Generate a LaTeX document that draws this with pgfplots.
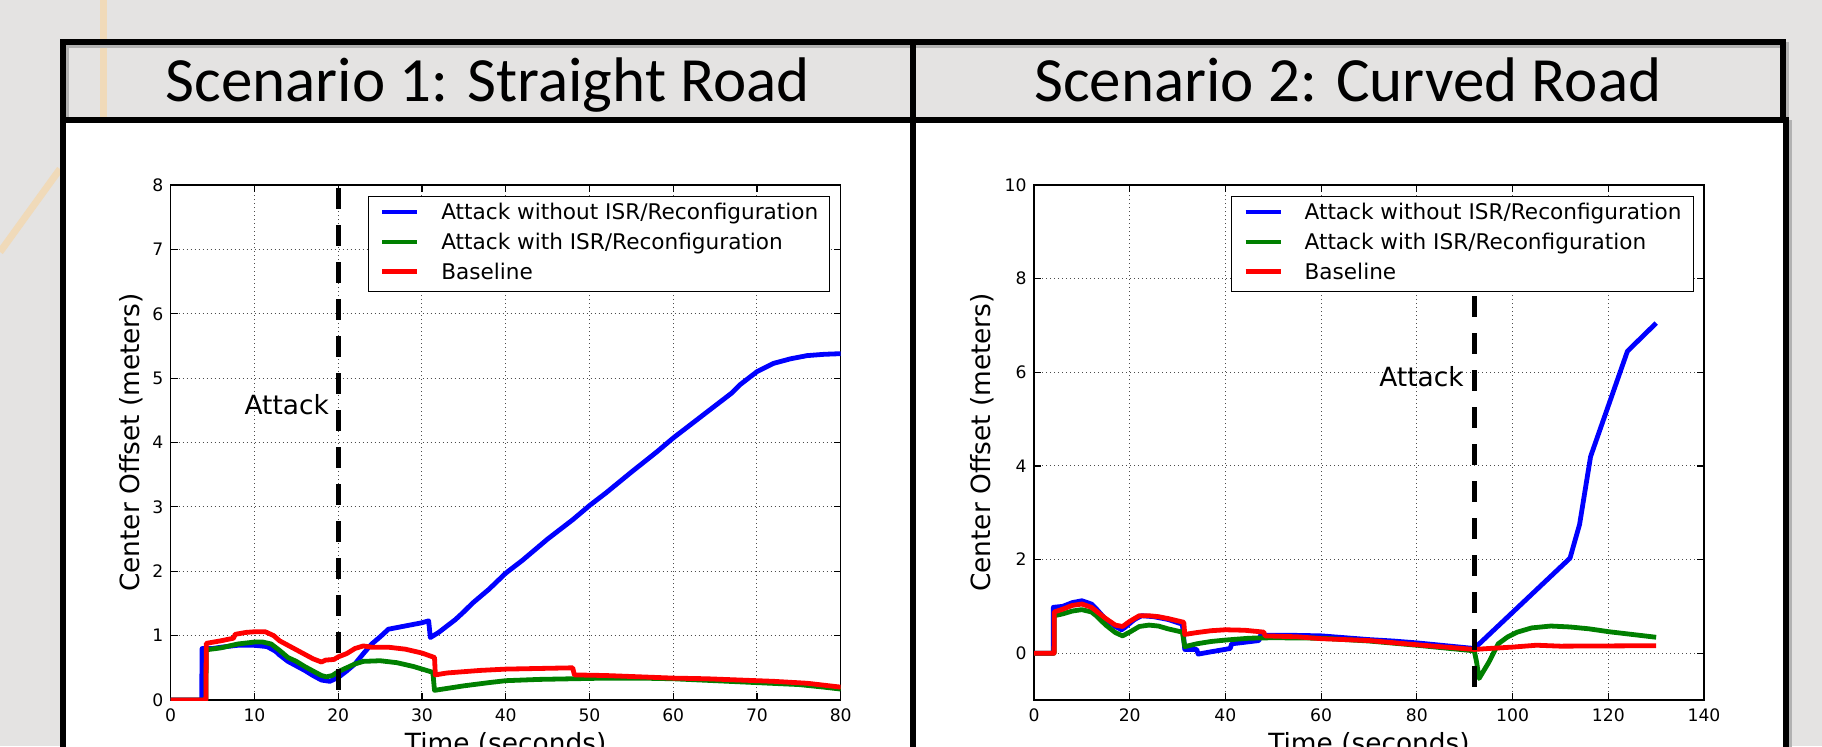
\documentclass[border=0pt]{standalone}
\usepackage{pgfplots}
\pgfplotsset{compat=1.18}
\usepackage{fontspec}
\setmainfont{DejaVu Sans}
\newfontfamily\titlefont{Carlito}
\definecolor{bg}{RGB}{228,227,226}
\definecolor{mblue}{RGB}{0,0,255}
\definecolor{mgreen}{RGB}{0,128,0}
\definecolor{mred}{RGB}{255,0,0}
\definecolor{deco}{RGB}{240,218,185}
\newcommand\tickfont{\fontsize{8.6}{10.2}\selectfont}
\newcommand\labelfont{\fontsize{13.2}{15.8}\selectfont}
\newcommand\legendfont{\fontsize{10.8}{13}\selectfont}
\pgfplotsset{
  panel/.style={
    scale only axis, width=335pt, height=257.5pt, anchor=south west,
    axis line style={black, line width=0.7pt},
    tick style={black, line width=0.6pt},
    tick align=inside, major tick length=3.5pt,
    grid=major,
    major grid style={black!70, line width=0.5pt, dash pattern=on 0.6pt off 1.4pt},
    tick label style={font=\tickfont},
    /pgf/number format/assume math mode=true,
    xticklabel style={inner sep=0pt, yshift=-4pt},
    yticklabel style={inner sep=0pt, xshift=-3.5pt},
    label style={font=\labelfont},
    xlabel style={at={(axis description cs:0.5,-0.0621)}, anchor=north, inner sep=0pt},
    ylabel style={anchor=center, inner sep=0pt},
    legend cell align=left,
    legend style={at={(axis description cs:1,1)}, anchor=north east,
      xshift=-5.25pt, yshift=-5.5pt, draw=black, line width=0.5pt, fill=white,
      font=\legendfont, inner xsep=5.75pt, inner ysep=3.9pt, row sep=4.95pt,
      column sep=10.85pt,
      nodes={inner sep=0pt, text height=0.76em, text depth=0.24em}},
    legend image code/.code={\draw[#1] (0pt,1.14pt) -- (17.5pt,1.14pt);},
  },
  dat/.style={line width=2.4pt, line join=round},
}
\begin{document}
\begin{tikzpicture}[x=0.5pt,y=0.5pt]
\useasboundingbox (0,0) rectangle (1822,746);
\clip (0,0) rectangle (1822,746);
\coordinate (pA) at (170.7,46);
\coordinate (pB) at (1034,46);
\fill[bg] (0,0) rectangle (1822,746);
\draw[deco, line width=3.5pt] (103,746) -- (103,626);
\draw[deco, line width=3.5pt] (0,494) -- (60,577);
% shadows
\draw[black!30, line width=3pt] (66,701) rectangle (1786,622.5);
\draw[black!30, line width=3pt] (66,622.5) -- (1789,622.5) -- (1789,-20);
\draw[line width=3pt] (63,704) rectangle (1783,625.5);
\filldraw[fill=white, line width=3pt] (63,625.5) rectangle (1786,-20);
\draw[line width=3pt] (912.5,704) -- (912.5,-20);
\node[anchor=base, inner sep=0pt, font=\titlefont\fontsize{31.5}{36}\selectfont] at (487.8,644.3) {Scenario 1: Straight Road};
\node[anchor=base, inner sep=0pt, font=\titlefont\fontsize{31.5}{36}\selectfont] at (1347.8,644.3) {Scenario 2: Curved Road};

\begin{axis}[panel, at={(pA)},
  xmin=0, xmax=80, ymin=0, ymax=8,
  xtick={0,10,...,80}, ytick={0,1,...,8},
  xlabel={Time (seconds)}, ylabel={Center Offset (meters)},
  ylabel style={at={(axis description cs:-0.0596,0.5)}}]
\addplot[dat, mblue] coordinates {(0,0) (3.7,0) (3.75,0.8) (5,0.8) (6,0.82) (8,0.85) (10,0.85) (11.5,0.83) (12.5,0.76) (13,0.7) (14,0.6) (15,0.53) (16,0.46) (17,0.38) (18,0.31) (19,0.29) (20,0.35) (21,0.45) (22,0.56) (23,0.72) (24,0.87) (25,0.98) (26,1.1) (28,1.15) (30,1.2) (30.8,1.23) (31,0.97) (32,1.05) (34,1.25) (35,1.37) (36,1.5) (38,1.72) (40,1.97) (42,2.17) (45,2.5) (48,2.8) (50,3.02) (52,3.22) (55,3.54) (58,3.85) (60,4.07) (62,4.27) (64,4.47) (65,4.57) (67,4.77) (68,4.9) (70,5.1) (72,5.23) (74,5.3) (76,5.35) (78,5.37) (80,5.38)};
\addlegendentry{Attack without ISR/Reconfiguration}
\addplot[dat, mgreen] coordinates {(0,0) (4.2,0) (4.25,0.78) (6,0.81) (8,0.87) (10,0.9) (11,0.9) (12,0.87) (13,0.77) (14,0.66) (15,0.6) (16,0.52) (17,0.45) (18,0.38) (18.6,0.36) (19.3,0.38) (20,0.44) (21,0.5) (22,0.56) (23,0.6) (25,0.61) (27,0.58) (29,0.52) (31.3,0.43) (31.5,0.15) (33,0.18) (35,0.22) (38,0.27) (40,0.3) (44,0.32) (48,0.33) (52,0.34) (56,0.34) (60,0.33) (65,0.3) (70,0.27) (75,0.24) (78,0.2) (80,0.17)};
\addlegendentry{Attack with ISR/Reconfiguration}
\addplot[dat, mred] coordinates {(0,0) (4.2,0) (4.25,0.88) (6,0.92) (7.5,0.96) (7.7,1.02) (9,1.05) (10,1.06) (11.3,1.06) (12.3,1.0) (13,0.92) (14,0.85) (15,0.78) (16,0.71) (17,0.64) (18,0.59) (18.5,0.62) (19.5,0.63) (20,0.67) (21,0.72) (22,0.8) (23,0.84) (24,0.82) (26,0.82) (28,0.79) (30,0.73) (31.5,0.66) (31.6,0.39) (33,0.42) (35,0.44) (37,0.46) (40,0.48) (44,0.49) (48,0.5) (48.2,0.39) (52,0.38) (56,0.36) (60,0.34) (64,0.33) (68,0.31) (72,0.29) (76,0.26) (80,0.2)};
\addlegendentry{Baseline}
\addplot[black, line width=2.5pt, dash pattern=on 10.25pt off 8.25pt, forget plot] coordinates {(20,7.95) (20,0.09)};
\node[anchor=east, inner sep=0pt, font=\labelfont] at (axis cs:18.93,4.59) {Attack};
\end{axis}

\begin{axis}[panel, at={(pB)},
  xmin=0, xmax=140, ymin=-1, ymax=10,
  xtick={0,20,...,140}, ytick={0,2,...,10},
  xlabel={Time (seconds)}, ylabel={Center Offset (meters)},
  ylabel style={at={(axis description cs:-0.0768,0.5)}}]
\addplot[dat, mblue] coordinates {(0,0) (4,0) (4.05,0.98) (6,1.0) (8,1.08) (10,1.12) (12,1.05) (13,0.95) (15,0.72) (17,0.57) (18.3,0.5) (19,0.55) (21,0.72) (22.5,0.8) (25,0.78) (28,0.72) (31,0.62) (31.5,0.08) (34,0.08) (34.3,-0.02) (37,0.03) (41,0.1) (41.3,0.2) (47,0.27) (47.3,0.38) (55,0.38) (60,0.37) (65,0.33) (70,0.29) (75,0.26) (80,0.22) (85,0.17) (92,0.1) (112,2.03) (114,2.75) (116.3,4.2) (124,6.45) (130,7.05)};
\addlegendentry{Attack without ISR/Reconfiguration}
\addplot[dat, mgreen] coordinates {(0,0) (4.2,0) (4.25,0.8) (6,0.84) (8,0.9) (10,0.93) (12,0.88) (13,0.8) (15,0.6) (17,0.44) (18.5,0.37) (20,0.45) (22,0.57) (24,0.6) (26,0.58) (28,0.52) (31,0.45) (31.5,0.14) (34,0.2) (37,0.25) (40,0.28) (45,0.32) (50,0.33) (60,0.32) (70,0.26) (80,0.17) (92,0.05) (92.5,-0.2) (93,-0.54) (95,-0.2) (97,0.2) (99,0.35) (101,0.45) (104,0.54) (108,0.58) (112,0.56) (116,0.52) (120,0.46) (125,0.4) (130,0.34)};
\addlegendentry{Attack with ISR/Reconfiguration}
\addplot[dat, mred] coordinates {(0,0) (4.2,0) (4.25,0.88) (6,0.94) (8,1.02) (10,1.05) (12,0.98) (13,0.9) (15,0.74) (17,0.6) (18.5,0.57) (20,0.68) (22,0.8) (24,0.8) (26,0.78) (28,0.74) (31.3,0.66) (31.5,0.4) (34,0.44) (37,0.48) (40,0.5) (44,0.49) (48,0.45) (48.3,0.37) (55,0.35) (60,0.31) (65,0.29) (70,0.27) (80,0.18) (92,0.08) (95,0.1) (100,0.13) (105,0.17) (110,0.15) (130,0.16)};
\addlegendentry{Baseline}
\addplot[black, line width=2.5pt, dash pattern=on 10.25pt off 8.25pt, forget plot] coordinates {(92,7.62) (92,-0.76)};
\node[anchor=east, inner sep=0pt, font=\labelfont] at (axis cs:89.85,5.9) {Attack};
\end{axis}
\end{tikzpicture}
\end{document}
